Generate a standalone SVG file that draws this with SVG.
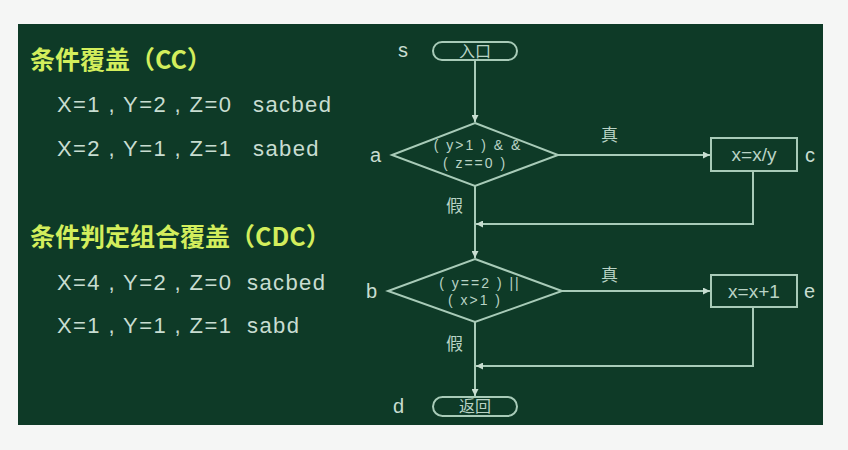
<svg xmlns="http://www.w3.org/2000/svg" width="848" height="450" viewBox="0 0 848 450">
<style>
.ln{fill:none;stroke:#a8cbb8;stroke-width:2}
.sh{fill:none;stroke:#a8cbb8;stroke-width:2}
.t{font-family:"Liberation Sans","Noto Sans CJK SC",sans-serif;fill:#c8ddd1}
.lt{font-size:22px}
.ttl{font-family:"Noto Sans CJK SC",sans-serif;font-weight:bold;font-size:25px;fill:#d3ee5c}
.lab{font-size:20px}
.cj{font-family:"Noto Sans CJK SC",sans-serif;fill:#b9d3c5;font-size:17px}
.nt{font-family:"Liberation Sans","Noto Sans CJK SC",sans-serif;fill:#b9d3c5;font-size:19px;text-anchor:middle}
.ct{font-family:"Noto Sans CJK SC",sans-serif;fill:#b9d3c5;font-size:16px;text-anchor:middle}
.dt{font-family:"Liberation Sans",sans-serif;fill:#b9d3c5;font-size:14px;text-anchor:middle;letter-spacing:2px}
</style>
<defs>
<marker id="ah" viewBox="0 0 10 10" refX="10" refY="5" markerWidth="7" markerHeight="7" markerUnits="userSpaceOnUse" orient="auto">
<path d="M0,0L10,5L0,10z" fill="#c8ddd1"/>
</marker>
</defs>
<rect x="0" y="0" width="848" height="450" fill="#f5f6f5"/>
<rect x="18" y="24" width="805" height="401" fill="#0e3a27"/>
<g id="text-left">
<text class="ttl" x="30" y="69">条件覆盖（CC）</text>
<text class="t lt" x="57" y="112" letter-spacing="1.4">X=1 , Y=2 , Z=0<tspan x="253">sacbed</tspan></text>
<text class="t lt" x="57" y="156" letter-spacing="1.4">X=2 , Y=1 , Z=1<tspan x="253">sabed</tspan></text>
<text class="ttl" x="30" y="246">条件判定组合覆盖（CDC）</text>
<text class="t lt" x="57" y="290" letter-spacing="1.4">X=4 , Y=2 , Z=0<tspan x="247">sacbed</tspan></text>
<text class="t lt" x="57" y="333" letter-spacing="1.4">X=1 , Y=1 , Z=1<tspan x="247">sabd</tspan></text>
</g>
<g id="connectors">
<path class="ln" d="M475,60V122" marker-end="url(#ah)"/>
<path class="ln" d="M558,155H710" marker-end="url(#ah)"/>
<path class="ln" d="M475,185V258" marker-end="url(#ah)"/>
<path class="ln" d="M753,171V224H476" marker-end="url(#ah)"/>
<path class="ln" d="M562,291H710" marker-end="url(#ah)"/>
<path class="ln" d="M475,322V396" marker-end="url(#ah)"/>
<path class="ln" d="M753,307V366H476" marker-end="url(#ah)"/>
<text class="cj" x="601" y="141">真</text>
<text class="cj" x="601" y="281">真</text>
<text class="cj" x="446" y="212">假</text>
<text class="cj" x="446" y="350">假</text>
</g>
<g id="node-s">
<rect class="sh" x="433" y="42" width="84" height="18" rx="9"/>
<text class="ct" x="475" y="57">入口</text>
<text class="t lab" x="398" y="57">s</text>
</g>
<g id="node-a">
<polygon class="sh" points="475,123 558,155 475,186 392,155"/>
<text class="dt" x="478" y="150">( y&gt;1 ) &amp; &amp;</text>
<text class="dt" x="475" y="168">( z==0 )</text>
<text class="t lab" x="370" y="162">a</text>
</g>
<g id="node-c">
<rect class="sh" x="711" y="138" width="86" height="33"/>
<text class="nt" x="754" y="161">x=x/y</text>
<text class="t lab" x="805" y="162">c</text>
</g>
<g id="node-b">
<polygon class="sh" points="475,259 562,291 475,322 388,291"/>
<text class="dt" x="480" y="288">( y==2 ) ||</text>
<text class="dt" x="475" y="305">( x&gt;1 )</text>
<text class="t lab" x="366" y="298">b</text>
</g>
<g id="node-e">
<rect class="sh" x="711" y="275" width="86" height="32"/>
<text class="nt" x="754" y="298">x=x+1</text>
<text class="t lab" x="804" y="298">e</text>
</g>
<g id="node-d">
<rect class="sh" x="433" y="397" width="84" height="19" rx="9.5"/>
<text class="ct" x="475" y="412">返回</text>
<text class="t lab" x="393" y="413">d</text>
</g>
</svg>
